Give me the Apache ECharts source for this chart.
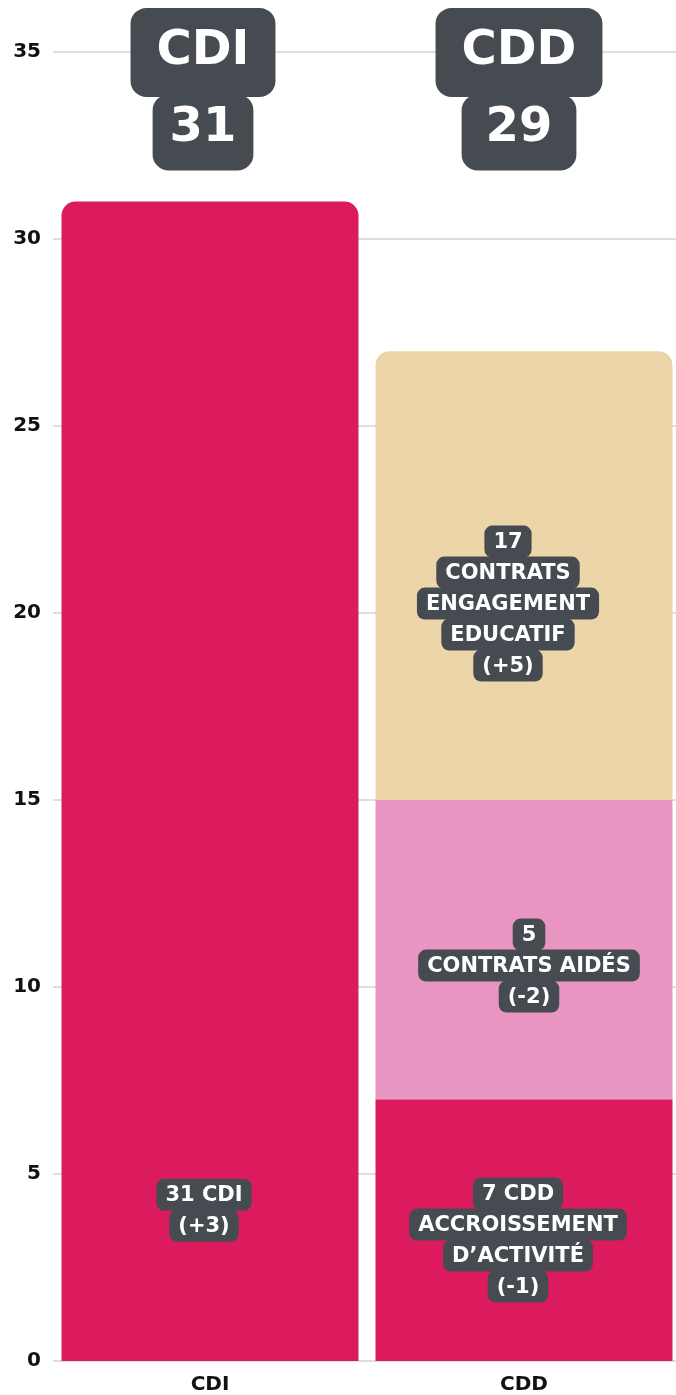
<!DOCTYPE html>
<html>
<head>
<meta charset="utf-8">
<script src="https://cdn.jsdelivr.net/npm/echarts@6/dist/echarts.min.js"></script>
<style>
html,body{margin:0;padding:0;background:#fff;overflow:hidden;}
#chart{width:681px;height:1395px;}
</style>
</head>
<body>
<div id="chart"></div>
<script>
// ---- data ----
const categories = ['CDI', 'CDD'];
const headerTitles = ['CDI', 'CDD'];
const headerTotals = [31, 29];
const headerLevel = [34, 34];
const redValues = [31, 7];        // CDI / CDD accroissement d'activité
const pinkValues = [null, 8];     // contrats aidés (as drawn)
const beigeValues = [null, 12];   // contrats engagement éducatif (as drawn)
const cdiLabel = ['31 CDI', '(+3)'];
const accroissementLabel = ['7 CDD', 'ACCROISSEMENT', 'D\u2019ACTIVITÉ', '(-1)'];
const aidesLabel = ['5', 'CONTRATS AIDÉS', '(-2)'];
const engagementLabel = ['17', 'CONTRATS', 'ENGAGEMENT', 'EDUCATIF', '(+5)'];
const yTicks = [0, 5, 10, 15, 20, 25, 30, 35];

// ---- styles ----
const RED = '#DC1B5E', PINK = '#E896C1', BEIGE = '#ECD5A8', DARK = '#464B51';
const FONT = 'DejaVu Sans';

const smallRich = {
  s: {
    fontFamily: FONT, fontWeight: 'bold', fontSize: 21, color: '#fff',
    backgroundColor: DARK, padding: [6, 9, 5, 9], borderRadius: 8, lineHeight: 31
  }
};
function lines(arr) { return arr.map(t => '{s|' + t + '}').join('\n'); }
function segLabel(arr, offset) {
  return { show: true, position: 'inside', offset: offset, formatter: lines(arr), rich: smallRich };
}
const headerNumPad = [17, 24];
const headerOffsets = [[-7, 0], [-5, 0]];

const chart = echarts.init(document.getElementById('chart'));
chart.setOption({
  animation: false,
  grid: { left: 53, top: 52, right: 0, bottom: 32, containLabel: false },
  xAxis: {
    type: 'category', data: categories,
    axisLine: { show: false }, axisTick: { show: false },
    axisLabel: { fontFamily: FONT, fontWeight: 'bold', fontSize: 20, color: '#111', margin: 14 }
  },
  yAxis: {
    type: 'value', min: yTicks[0], max: yTicks[yTicks.length - 1], interval: 5,
    axisLine: { show: false }, axisTick: { show: false },
    axisLabel: { fontFamily: FONT, fontWeight: 'bold', fontSize: 20, color: '#111', margin: 12 },
    splitLine: { lineStyle: { color: '#d3d3d3', width: 1.5 } }
  },
  series: [
    {
      name: 'red', type: 'bar', stack: 'total', barWidth: 297,
      itemStyle: { color: RED },
      data: redValues.map((v, i) => ({
        value: v,
        itemStyle: { borderRadius: i === 0 ? [14, 14, 0, 0] : 0 },
        label: i === 0 ? segLabel(cdiLabel, [-6, 429]) : segLabel(accroissementLabel, [-6, 10])
      }))
    },
    {
      name: 'pink', type: 'bar', stack: 'total', barWidth: 297,
      itemStyle: { color: PINK },
      data: pinkValues.map(v => ({ value: v, label: segLabel(aidesLabel, [5, 16]) }))
    },
    {
      name: 'beige', type: 'bar', stack: 'total', barWidth: 297,
      itemStyle: { color: BEIGE, borderRadius: [14, 14, 0, 0] },
      data: beigeValues.map(v => ({ value: v, label: segLabel(engagementLabel, [-16, 28]) }))
    },
    {
      name: 'headers', type: 'scatter', symbolSize: 0, z: 10,
      itemStyle: { opacity: 1 },
      data: categories.map((c, i) => ({
        value: [c, headerLevel[i]],
        label: {
          show: true, position: 'inside', offset: headerOffsets[i], opacity: 1,
          formatter: '{t|' + headerTitles[i] + '}\n{n|' + headerTotals[i] + '}',
          rich: {
            t: { fontFamily: FONT, fontWeight: 'bold', fontSize: 48, color: '#fff', backgroundColor: DARK,
                 padding: [20, 26, 21, 26], borderRadius: 16, lineHeight: 86 },
            n: { fontFamily: FONT, fontWeight: 'bold', fontSize: 48, color: '#fff', backgroundColor: DARK,
                 padding: [10, headerNumPad[i], 18, headerNumPad[i]], borderRadius: 16, lineHeight: 74 }
          }
        }
      }))
    }
  ]
});
</script>
</body>
</html>
